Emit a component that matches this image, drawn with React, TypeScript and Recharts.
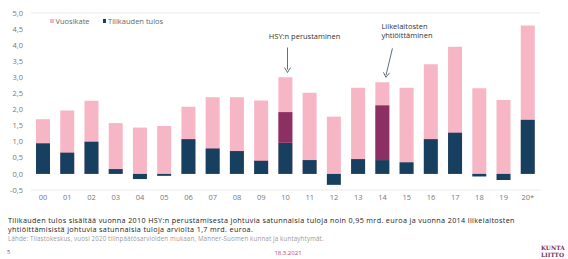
import React from 'react';
import { BarChart, Bar, XAxis, YAxis, CartesianGrid, ReferenceDot } from 'recharts';

const years = ['00','01','02','03','04','05','06','07','08','09','10','11','12','13','14','15','16','17','18','19','20*'];
const vuosikate = [1.70,1.97,2.27,1.58,1.44,1.49,2.09,2.38,2.38,2.28,3.00,2.52,1.78,2.68,2.85,2.68,3.41,3.95,2.66,2.30,4.61];
const tulos = [0.95,0.66,1.00,0.15,-0.16,-0.06,1.08,0.79,0.71,0.41,0.97,0.43,-0.34,0.46,0.43,0.36,1.08,1.28,-0.08,-0.19,1.68];
const satunnaiset = [0,0,0,0,0,0,0,0,0,0,0.95,0,0,0,1.70,0,0,0,0,0,0];
const yTicks = [-0.5,0,0.5,1,1.5,2,2.5,3,3.5,4,4.5,5];

const PINK = '#F7B6C6';
const NAVY = '#173F5F';
const PURPLE = '#8C3064';
const FONT = '"Open Sans", sans-serif';

const data = years.map((y, i) => ({ year: y, vuosikate: vuosikate[i], tulos: tulos[i], satunnaiset: satunnaiset[i] }));

const fmt = (v: number) => v.toFixed(1).replace('.', ',');

const HsyShape = (props: any) => {
  const { cx, cy } = props;
  if (cx == null || cy == null) return null;
  return (
    <g>
      <line x1={cx + 2} y1={cy - 25} x2={cx + 2} y2={cy - 3} stroke="#4a5f6e" strokeWidth={0.9} />
      <path d={`M${cx - 1} ${cy - 5} L${cx + 2} ${cy} L${cx + 5} ${cy - 5}`} fill="none" stroke="#4a5f6e" strokeWidth={0.9} />
      <text x={cx + 19} y={cy - 34} textAnchor="middle" fontSize={7.5} fill="#333" fontFamily={FONT}>HSY:n perustaminen</text>
    </g>
  );
};

const LiikeShape = (props: any) => {
  const { cx, cy } = props;
  if (cx == null || cy == null) return null;
  const x1 = cx + 10, y1 = cy - 29, x2 = cx + 3.5, y2 = cy;
  return (
    <g>
      <line x1={x1} y1={y1} x2={x2} y2={y2 - 2} stroke="#4a5f6e" strokeWidth={0.9} />
      <path d={`M${x2 - 2.5} ${y2 - 5} L${x2} ${y2} L${x2 + 3.5} ${y2 - 4.5}`} fill="none" stroke="#4a5f6e" strokeWidth={0.9} />
      <text x={cx - 1} y={cy - 48} fontSize={7.5} fill="#333" fontFamily={FONT}>Liikelaitosten</text>
      <text x={cx - 1} y={cy - 39} fontSize={7.5} fill="#333" fontFamily={FONT}>yhtiöittäminen</text>
    </g>
  );
};

export default function App() {
  return (
    <div style={{ position: 'absolute', left: 0, top: 0, width: 568, height: 259, background: '#fff', overflow: 'hidden', fontFamily: FONT }}>
      <BarChart width={568} height={210} data={data} margin={{ top: 13, right: 0, bottom: 0, left: 0 }} barSize={14}>
        <CartesianGrid horizontal vertical={false} stroke="#e4e4e4" strokeWidth={0.8} />
        <XAxis dataKey="year" xAxisId="a" axisLine={false} tickLine={false} tickSize={0} tickMargin={5} interval={0}
          tick={{ fontSize: 7.5, fill: '#777', fontFamily: FONT }} height={20} />
        <XAxis dataKey="year" xAxisId="b" hide />
        <YAxis yAxisId="l" orientation="left" width={31} domain={[-0.5, 5]} ticks={yTicks} tickFormatter={fmt}
          axisLine={false} tickLine={false} tickSize={0} tickMargin={8} tick={{ fontSize: 7.5, fill: '#777', fontFamily: FONT }} />
        <YAxis yAxisId="r" orientation="right" width={28} domain={[-0.5, 5]} ticks={yTicks} tickFormatter={fmt}
          axisLine={false} tickLine={false} tickSize={0} tickMargin={9} tick={{ fontSize: 7.5, fill: '#777', fontFamily: FONT }} />
        <Bar dataKey="vuosikate" xAxisId="a" yAxisId="l" fill={PINK} isAnimationActive={false} />
        <Bar dataKey="tulos" xAxisId="b" yAxisId="l" stackId="t" fill={NAVY} isAnimationActive={false} />
        <Bar dataKey="satunnaiset" xAxisId="b" yAxisId="l" stackId="t" fill={PURPLE} isAnimationActive={false} />
        <ReferenceDot xAxisId="a" yAxisId="l" x="10" y={3.15} shape={HsyShape} ifOverflow="visible" />
        <ReferenceDot xAxisId="a" yAxisId="l" x="14" y={3.0} shape={LiikeShape} ifOverflow="visible" />
      </BarChart>

      <div style={{ position: 'absolute', left: 50, top: 16, display: 'flex', alignItems: 'center', fontSize: 7.5, color: '#666', whiteSpace: 'nowrap' }}>
        <span style={{ width: 3.5, height: 3.5, background: PINK, display: 'inline-block', marginRight: 2 }} />
        <span style={{ marginRight: 13 }}>Vuosikate</span>
        <span style={{ width: 3.5, height: 3.5, background: NAVY, display: 'inline-block', marginRight: 2 }} />
        <span>Tilikauden tulos</span>
      </div>

      <div style={{ position: 'absolute', left: 8, top: 216, fontSize: 7.2, lineHeight: '8.5px', letterSpacing: '0.35px', color: '#222', whiteSpace: 'nowrap' }}>
        <div style={{ height: 8.5 }}>Tilikauden tulos sisältää vuonna 2010 HSY:n perustamisesta johtuvia satunnaisia tuloja noin 0,95 mrd. euroa ja vuonna 2014 liikelaitosten</div>
        <div style={{ height: 8.5 }}>yhtiöittämisistä johtuvia satunnaisia tuloja arviolta 1,7 mrd. euroa.</div>
      </div>
      <div style={{ position: 'absolute', left: 8, top: 235, fontSize: 6.2, lineHeight: '7px', letterSpacing: '0.15px', color: '#9a9a9a', whiteSpace: 'nowrap' }}>
        Lähde: Tilastokeskus, vuosi 2020 tilinpäätösarvioiden mukaan, Manner-Suomen kunnat ja kuntayhtymät.
      </div>
      <div style={{ position: 'absolute', left: 7, top: 249, fontSize: 6, lineHeight: '7px', color: '#c2476c' }}>5</div>
      <div style={{ position: 'absolute', left: 288, top: 250, fontSize: 6, lineHeight: '7px', color: '#c2476c', transform: 'translateX(-50%)' }}>18.3.2021</div>
      <div style={{ position: 'absolute', left: 541, top: 245, fontSize: 5.8, lineHeight: '6.5px', color: '#7a2a5e', fontFamily: '"DejaVu Serif", serif', fontWeight: 'bold', whiteSpace: 'nowrap' }}>
        <div style={{ height: 6.5 }}>KUNTA</div>
        <div style={{ height: 6.5 }}>LIITTO</div>
      </div>
    </div>
  );
}
